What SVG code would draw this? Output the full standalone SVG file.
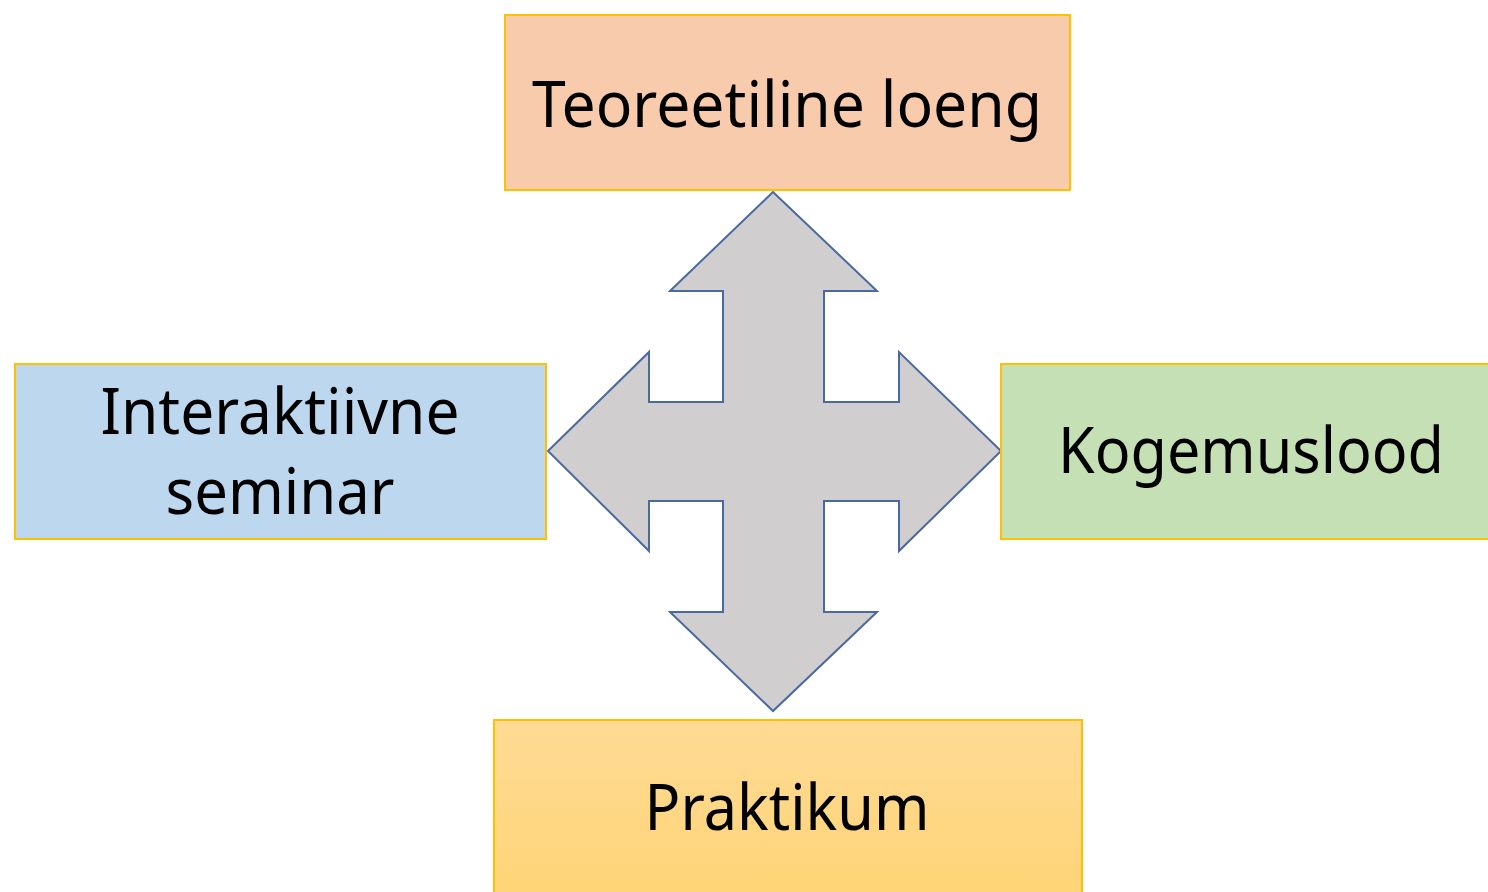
<svg xmlns="http://www.w3.org/2000/svg" width="1488" height="892" viewBox="0 0 1488 892">
<style>
.box{stroke:#FFC000;stroke-width:2}
.lbl{font-family:"Noto Sans","Open Sans","Liberation Sans",sans-serif;font-size:64px;fill:#000;text-anchor:middle}
.arrow{fill:#D0CECE;stroke:#4A69A0;stroke-width:2;stroke-linejoin:miter}
</style>
<defs>
<linearGradient id="gold" x1="0" y1="0" x2="0" y2="1">
<stop offset="0" stop-color="#FEDA95"/>
<stop offset="1" stop-color="#FFD474"/>
</linearGradient>
</defs>
<rect width="1488" height="892" fill="#FFFFFF"/>
<g id="connectors">
<path class="arrow" d="M773,192 L877,291 L824,291 L824,402 L899,402 L899,352 L1001,451 L899,551 L899,501 L824,501 L824,612 L877,612 L773,711 L670,612 L723,612 L723,501 L649,501 L649,551 L548,451 L649,352 L649,402 L723,402 L723,291 L670,291 Z"/>
</g>
<g id="node-top">
<rect class="box" x="505" y="15" width="565" height="175" fill="#F8CBAD"/>
<text class="lbl" x="787" y="127" textLength="510" lengthAdjust="spacingAndGlyphs">Teoreetiline loeng</text>
</g>
<g id="node-left">
<rect class="box" x="15" y="364" width="531" height="175" fill="#BDD7EE"/>
<text class="lbl" x="280" y="434" textLength="359" lengthAdjust="spacingAndGlyphs">Interaktiivne</text>
<text class="lbl" x="280" y="514" textLength="229" lengthAdjust="spacingAndGlyphs">seminar</text>
</g>
<g id="node-right">
<rect class="box" x="1001" y="364" width="500" height="175" fill="#C5E0B4"/>
<text class="lbl" x="1251" y="473" textLength="386" lengthAdjust="spacingAndGlyphs">Kogemuslood</text>
</g>
<g id="node-bottom">
<rect class="box" x="494" y="720" width="588" height="190" fill="url(#gold)"/>
<text class="lbl" x="787" y="830" textLength="285" lengthAdjust="spacingAndGlyphs">Praktikum</text>
</g>
</svg>
